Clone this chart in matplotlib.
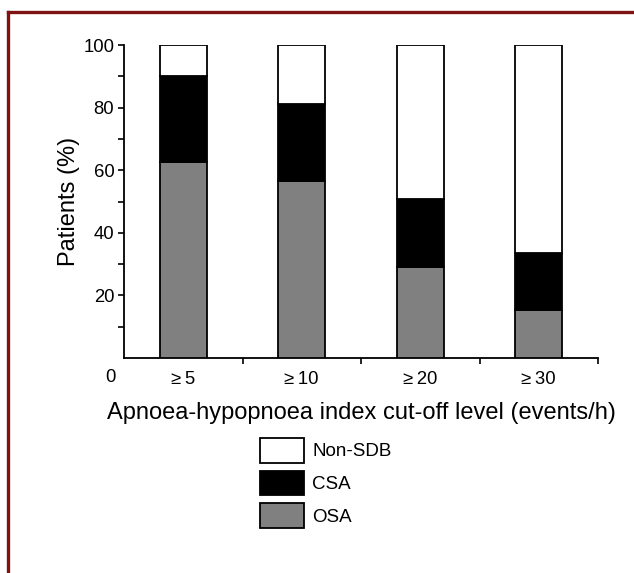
import matplotlib
matplotlib.use("Agg")
import matplotlib.pyplot as plt
from matplotlib.lines import Line2D
from matplotlib.ticker import FixedLocator

plt.rcParams['font.family'] = ['Liberation Sans', 'DejaVu Sans']

categories = ["\u2265\u20095", "\u2265\u200910", "\u2265\u200920", "\u2265\u200930"]
osa = [62.7, 56.5, 29.2, 15.3]
csa = [27.4, 24.5, 21.5, 18.3]
non_sdb = [9.9, 19.0, 49.3, 66.4]
series_labels = ["OSA", "CSA", "Non-SDB"]
series_colors = ["#808080", "#000000", "#ffffff"]

W, H, DPI = 634, 573, 100
fig = plt.figure(figsize=(W / DPI, H / DPI), dpi=DPI)
fig.patch.set_facecolor("white")

ax = fig.add_axes([124 / W, 1 - 358 / H, (598 - 124) / W, (358 - 45) / H])
x = list(range(len(categories)))
bottom = [0.0] * len(categories)
handles = []
for vals, lab, col in zip([osa, csa, non_sdb], series_labels, series_colors):
    b = ax.bar(x, vals, width=0.4, bottom=bottom, color=col, edgecolor="black",
               linewidth=1.3, label=lab, zorder=3)
    handles.append(b)
    bottom = [bb + v for bb, v in zip(bottom, vals)]

ax.set_xlim(-0.5, 3.5)
ax.set_ylim(0, 100)
for s in ["top", "right"]:
    ax.spines[s].set_visible(False)
for s in ["left", "bottom"]:
    ax.spines[s].set_linewidth(1.3)

tick_fs = 13.3
ax.yaxis.set_major_locator(FixedLocator([20, 40, 60, 80, 100]))
ax.yaxis.set_minor_locator(FixedLocator([10, 30, 50, 70, 90]))
ax.tick_params(axis="y", which="both", direction="out", length=4, width=1.2,
               labelsize=tick_fs, pad=3)
ax.set_xticks(x)
ax.set_xticklabels(categories)
ax.xaxis.set_minor_locator(FixedLocator([0.5, 1.5, 2.5, 3.5]))
ax.tick_params(axis="x", which="major", length=0, labelsize=tick_fs, pad=9.5)
ax.tick_params(axis="x", which="minor", direction="out", length=4, width=1.2)

ax.annotate("0", xy=(0, 0), xycoords=("axes fraction", "data"),
            xytext=(-6, -14), textcoords="offset points",
            ha="right", va="center", fontsize=tick_fs)

label_fs = 17
ax.set_ylabel("Patients (%)", fontsize=label_fs)
ax.yaxis.set_label_coords(-0.093, 0.5)
ax.set_xlabel("Apnoea-hypopnoea index cut-off level (events/h)", fontsize=label_fs)
ax.xaxis.set_label_coords(0.5, -0.14)

fs = 13.5
pt = 72 / DPI
leg = fig.legend(handles[::-1], series_labels[::-1], loc="upper left",
                 bbox_to_anchor=(260 / W, 1 - 438 / H), frameon=False,
                 fontsize=fs, borderpad=0, borderaxespad=0,
                 handlelength=44 * pt / fs, handleheight=31 * pt / fs,
                 labelspacing=8 * pt / fs, handletextpad=8 * pt / fs)

# dark red border (top and left)
fig.add_artist(Line2D([8 / W, 8 / W], [0, 1 - 12 / H], transform=fig.transFigure,
                      color="#7f1212", linewidth=2.4))
fig.add_artist(Line2D([8 / W, 1], [1 - 12 / H, 1 - 12 / H], transform=fig.transFigure,
                      color="#7f1212", linewidth=2.4))

fig.savefig("out.png", dpi=DPI)
